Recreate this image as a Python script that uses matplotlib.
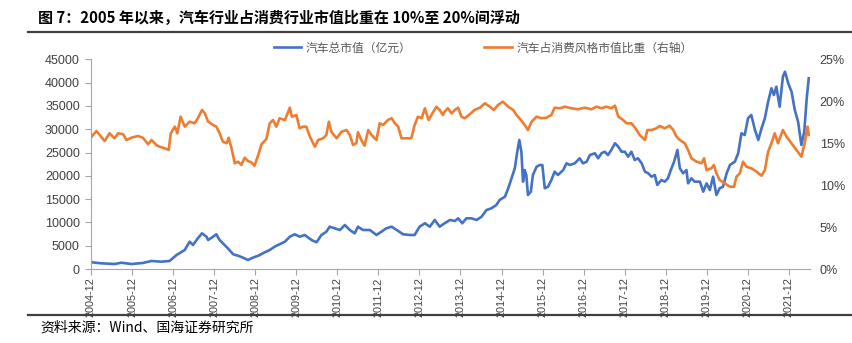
import matplotlib
matplotlib.use("Agg")
import matplotlib.pyplot as plt
from matplotlib.lines import Line2D

plt.rcParams['font.family'] = ['Liberation Sans', 'Noto Sans CJK SC', 'DejaVu Sans']

title = "图 7：2005 年以来，汽车行业占消费行业市值比重在 10%至 20%间浮动"
source = "资料来源：Wind、国海证券研究所"
label_blue = "汽车总市值（亿元）"
label_orange = "汽车占消费风格市值比重（右轴）"

tick_years = list(range(2004, 2022))
tick_labels = [f"{y}-12" for y in tick_years]

blue_t = [2004.93, 2005.17, 2005.49, 2005.66, 2005.90, 2006.18, 2006.39, 2006.63, 2006.83, 2007.00,
          2007.20, 2007.32, 2007.40, 2007.52, 2007.62, 2007.73, 2007.77, 2007.89, 2007.97, 2008.05,
          2008.17, 2008.25, 2008.38, 2008.50, 2008.62, 2008.74, 2008.86, 2008.99, 2009.15, 2009.27,
          2009.39, 2009.51, 2009.64, 2009.76, 2009.88, 2010.00, 2010.12, 2010.29, 2010.41, 2010.53,
          2010.65, 2010.73, 2010.85, 2010.98, 2011.10, 2011.22, 2011.34, 2011.42, 2011.54, 2011.71,
          2011.87, 2011.99, 2012.11, 2012.24, 2012.36, 2012.52, 2012.68, 2012.80, 2012.92, 2013.05,
          2013.17, 2013.29, 2013.41, 2013.53, 2013.66, 2013.78, 2013.86, 2013.96, 2014.06, 2014.18,
          2014.31, 2014.43, 2014.55, 2014.67, 2014.79, 2014.87, 2015.00, 2015.08, 2015.16, 2015.24,
          2015.30, 2015.35, 2015.40, 2015.44, 2015.48, 2015.52, 2015.56, 2015.63, 2015.68, 2015.77,
          2015.85, 2015.91, 2015.97, 2016.05, 2016.13, 2016.21, 2016.29, 2016.42, 2016.50, 2016.58,
          2016.70, 2016.82, 2016.90, 2016.99, 2017.07, 2017.19, 2017.27, 2017.35, 2017.43, 2017.51,
          2017.59, 2017.68, 2017.76, 2017.84, 2017.92, 2018.00, 2018.08, 2018.16, 2018.24, 2018.33,
          2018.41, 2018.49, 2018.57, 2018.65, 2018.71, 2018.81, 2018.89, 2018.97, 2019.04, 2019.12,
          2019.20, 2019.26, 2019.34, 2019.42, 2019.46, 2019.54, 2019.62, 2019.75, 2019.83, 2019.91,
          2019.99, 2020.07, 2020.15, 2020.23, 2020.31, 2020.40, 2020.48, 2020.60, 2020.68, 2020.76,
          2020.84, 2020.92, 2021.00, 2021.09, 2021.17, 2021.25, 2021.33, 2021.41, 2021.49, 2021.55,
          2021.61, 2021.69, 2021.77, 2021.82, 2021.90, 2021.98, 2022.06, 2022.14, 2022.22, 2022.29,
          2022.35, 2022.40]
blue_v = [1440, 1220, 1070, 1350, 1070, 1290, 1720, 1570, 1720, 3000,
          4080, 5860, 5150, 6590, 7660, 6930, 6220, 6930, 7450, 6220,
          5150, 4440, 3160, 2850, 2430, 1930, 2430, 2850, 3580, 4080,
          4790, 5300, 5860, 6930, 7450, 6930, 7300, 6220, 5730, 7300,
          8000, 9080, 8730, 8370, 9440, 8370, 7660, 9080, 8370, 8370,
          7300, 8000, 8730, 9080, 8370, 7450, 7300, 7300, 9080, 9810,
          9080, 10520, 9080, 9810, 10520, 10300, 10880, 9810, 10880, 10880,
          10520, 11220, 12660, 13030, 13730, 14810, 15520, 17320, 19460, 21610,
          25170, 27680, 25170, 18740, 21250, 20170, 15880, 16590, 20170, 21950,
          22320, 22320, 17320, 17660, 19100, 20880, 20170, 21250, 22680, 22320,
          22680, 23760, 22680, 23030, 24460, 24830, 23760, 24830, 25170, 24460,
          25540, 26980, 26250, 25170, 25170, 24100, 25170, 23390, 23760, 22680,
          20880, 20540, 19810, 20170, 18030, 19100, 18740, 19460, 21250, 23030,
          25540, 21610, 20540, 21250, 18390, 19460, 18740, 18740, 16590, 18390,
          16950, 19810, 15880, 17320, 17660, 20540, 22320, 23030, 24830, 29120,
          28760, 32340, 33050, 29830, 27680, 30190, 32340, 35900, 38780, 37340,
          39120, 34830, 41270, 42340, 39850, 38050, 34120, 31610, 26610, 29470,
          36630, 40920]

orange_t = [2004.93, 2005.05, 2005.13, 2005.25, 2005.37, 2005.49, 2005.58, 2005.70, 2005.78, 2005.90,
            2006.06, 2006.18, 2006.31, 2006.39, 2006.51, 2006.59, 2006.71, 2006.81, 2006.86, 2006.96,
            2007.02, 2007.10, 2007.20, 2007.32, 2007.44, 2007.52, 2007.62, 2007.69, 2007.77, 2007.89,
            2007.97, 2008.05, 2008.13, 2008.22, 2008.27, 2008.34, 2008.42, 2008.50, 2008.58, 2008.66,
            2008.74, 2008.82, 2008.90, 2008.99, 2009.07, 2009.19, 2009.27, 2009.35, 2009.43, 2009.51,
            2009.64, 2009.76, 2009.81, 2009.92, 2010.00, 2010.08, 2010.16, 2010.25, 2010.37, 2010.45,
            2010.57, 2010.65, 2010.71, 2010.77, 2010.90, 2011.02, 2011.14, 2011.22, 2011.30, 2011.38,
            2011.42, 2011.50, 2011.58, 2011.67, 2011.75, 2011.87, 2011.95, 2012.03, 2012.15, 2012.24,
            2012.32, 2012.40, 2012.48, 2012.60, 2012.72, 2012.80, 2012.88, 2012.97, 2013.05, 2013.14,
            2013.21, 2013.33, 2013.41, 2013.49, 2013.53, 2013.61, 2013.70, 2013.78, 2013.86, 2013.94,
            2014.02, 2014.14, 2014.26, 2014.39, 2014.51, 2014.63, 2014.73, 2014.83, 2014.95, 2015.08,
            2015.20, 2015.28, 2015.39, 2015.48, 2015.56, 2015.65, 2015.77, 2015.89, 2016.01, 2016.13,
            2016.21, 2016.34, 2016.46, 2016.62, 2016.78, 2016.94, 2017.11, 2017.23, 2017.35, 2017.47,
            2017.59, 2017.68, 2017.76, 2017.88, 2017.96, 2018.08, 2018.18, 2018.28, 2018.41, 2018.47,
            2018.57, 2018.69, 2018.77, 2018.89, 2019.01, 2019.10, 2019.18, 2019.26, 2019.38, 2019.46,
            2019.54, 2019.67, 2019.79, 2019.85, 2019.91, 2020.03, 2020.09, 2020.15, 2020.23, 2020.35,
            2020.48, 2020.58, 2020.64, 2020.72, 2020.80, 2020.88, 2021.00, 2021.13, 2021.25, 2021.33,
            2021.41, 2021.49, 2021.57, 2021.65, 2021.77, 2021.86, 2021.98, 2022.10, 2022.22, 2022.30,
            2022.37, 2022.40]
orange_v = [15.77, 16.45, 15.98, 15.26, 16.18, 15.58, 16.18, 16.06, 15.38, 15.65,
            15.86, 15.65, 14.87, 15.38, 14.78, 14.58, 14.39, 14.19, 16.18, 16.97,
            16.18, 18.16, 16.97, 17.56, 17.37, 17.97, 18.96, 18.56, 17.56, 17.17,
            16.97, 16.18, 15.18, 14.99, 15.65, 14.39, 12.60, 12.79, 12.40, 13.27,
            12.88, 12.72, 12.32, 13.59, 14.87, 15.50, 17.37, 17.76, 16.97, 17.97,
            17.76, 19.23, 18.16, 18.36, 16.77, 16.97, 16.97, 15.77, 14.58, 15.38,
            15.58, 15.98, 17.56, 16.37, 15.58, 16.37, 16.57, 15.98, 14.78, 14.99,
            16.30, 15.38, 14.70, 16.57, 15.98, 15.38, 17.37, 17.17, 17.76, 17.97,
            17.37, 16.97, 15.58, 15.58, 15.58, 17.17, 18.16, 17.97, 19.16, 17.76,
            18.36, 19.35, 18.96, 18.36, 18.75, 19.16, 18.56, 18.96, 19.23, 18.16,
            17.97, 18.44, 18.96, 19.23, 19.75, 19.35, 18.96, 19.55, 19.95, 19.35,
            18.96, 18.36, 17.76, 17.17, 16.57, 17.56, 18.16, 17.97, 18.04, 18.36,
            19.23, 19.16, 19.35, 19.16, 19.04, 19.23, 19.04, 19.35, 19.16, 19.35,
            19.16, 19.47, 18.16, 17.76, 17.37, 17.37, 16.77, 15.98, 15.38, 16.57,
            16.57, 16.77, 17.05, 16.77, 17.08, 16.57, 15.77, 15.38, 14.99, 14.19,
            13.20, 12.79, 12.60, 13.20, 11.80, 12.01, 12.40, 11.41, 10.61, 10.22,
            9.81, 9.81, 11.00, 11.41, 12.79, 12.20, 12.01, 11.60, 11.12, 11.80,
            13.98, 14.99, 16.18, 14.99, 16.57, 15.77, 14.99, 14.19, 13.39, 14.99,
            16.97, 15.98]

left_ticks = list(range(0, 45001, 5000))
right_ticks = [0, 5, 10, 15, 20, 25]

W, H = 852, 343
fig = plt.figure(figsize=(W / 100, H / 100), dpi=100)

ax_l, ax_r, ax_b, ax_t = 91, 810, 269, 59.3
ax = fig.add_axes([ax_l / W, 1 - ax_b / H, (ax_r - ax_l) / W, (ax_b - ax_t) / H])
ax2 = ax.twinx()

blue_c = '#4472C4'
orange_c = '#ED7D31'
l1, = ax.plot(blue_t, blue_v, color=blue_c, lw=1.9, solid_joinstyle='round')
l2, = ax2.plot(orange_t, orange_v, color=orange_c, lw=1.9, solid_joinstyle='round')

ax.set_xlim(2004.917, 2022.43)
ax.set_ylim(0, 45000)
ax2.set_ylim(0, 25)
ax.set_yticks(left_ticks)
ax.set_yticklabels([str(v) for v in left_ticks])
ax2.set_yticks(right_ticks)
ax2.set_yticklabels([f"{v}%" for v in right_ticks])
ax.set_xticks([y + 0.917 for y in tick_years])
ax.set_xticklabels(tick_labels, rotation=90)

spine_c = '#a6a6a6'
for s in ['top', 'right']:
    ax.spines[s].set_visible(False)
for s in ax2.spines.values():
    s.set_visible(False)
ax.spines['left'].set_color(spine_c)
ax.spines['bottom'].set_color(spine_c)

txt_c = '#404040'
ax.tick_params(axis='y', length=4, width=0.8, color=spine_c, labelsize=9, labelcolor=txt_c, pad=4)
ax.tick_params(axis='x', length=4, width=0.8, color=spine_c, labelsize=7.8, labelcolor=txt_c, pad=2)
ax2.tick_params(axis='y', length=0, labelsize=9, labelcolor=txt_c, pad=7)

leg = fig.legend([l1, l2], [label_blue, label_orange], loc='center',
                 bbox_to_anchor=(483 / W, 1 - 48 / H), ncol=2, frameon=False,
                 prop={'family': ['Noto Sans CJK SC'], 'size': 8.5},
                 handlelength=2.3, handletextpad=0.4, columnspacing=6.2)
for t in leg.get_texts():
    t.set_color('#595959')

fig.text(38 / W, 1 - 18 / H, title, fontsize=10.8, fontweight='bold', color='black',
         ha='left', va='center', family=['Noto Sans CJK SC', 'DejaVu Sans'])
fig.text(40 / W, 1 - 328 / H, source, fontsize=10, color='black',
         ha='left', va='center', family=['Noto Sans CJK SC', 'DejaVu Sans'])

fig.add_artist(Line2D([28 / W, 1], [1 - 31.5 / H] * 2, color='#404040', lw=1.6))
fig.add_artist(Line2D([28 / W, 1], [1 - 315 / H] * 2, color='#404040', lw=1.6))

fig.savefig('out.png', dpi=100)
